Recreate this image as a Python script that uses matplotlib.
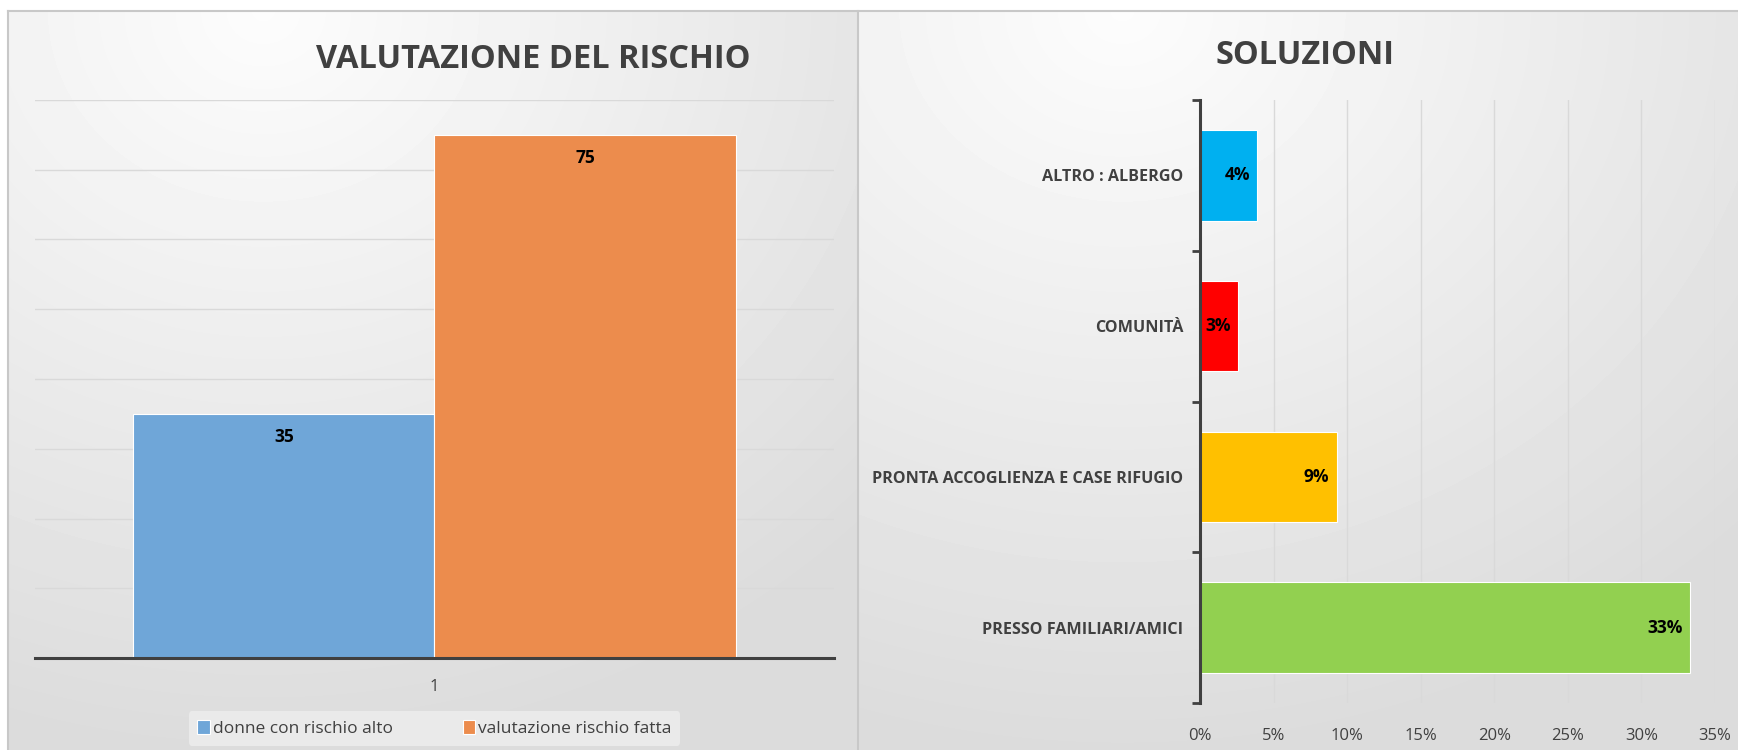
import numpy as np
import matplotlib
matplotlib.use("Agg")
import matplotlib.pyplot as plt
from matplotlib.ticker import PercentFormatter

# --- data ---
left_title = "VALUTAZIONE DEL RISCHIO"
left_series = ["donne con rischio alto", "valutazione rischio fatta"]
left_values = [35, 75]
left_colors = ["#6FA6D8", "#EC8C4D"]

right_title = "SOLUZIONI"
right_cats = ["PRESSO FAMILIARI/AMICI", "PRONTA ACCOGLIENZA E CASE RIFUGIO",
              "COMUNITÀ", "ALTRO : ALBERGO"]
right_values = [0.333, 0.093, 0.026, 0.039]
right_colors = ["#92D050", "#FFC000", "#FF0000", "#00B0F0"]

plt.rcParams['font.family'] = ['Open Sans', 'DejaVu Sans']
txt = "#404040"

W, H = 1738, 750
fig = plt.figure(figsize=(W / 100, H / 100), dpi=100)

# background: soft gradient panels like the office chart
bg = fig.add_axes([0, 0, 1, 1], zorder=-10)
yy, xx = np.mgrid[0:H, 0:W]
img = np.ones((H, W))
for x0, x1 in [(8, 858), (858, W)]:
    m = (xx >= x0) & (xx < x1) & (yy >= 11)
    cx = x0 + 0.3 * (x1 - x0)
    d = np.sqrt(((xx - cx) / (x1 - x0)) ** 2 + ((yy - 11) / H) ** 2)
    img[m] = 0.99 - 0.13 * np.clip(d[m], 0, 1)
bg.imshow(img, cmap="gray", vmin=0, vmax=1, aspect="auto", extent=[0, W, H, 0])
bg.plot([8, 8], [11, H], color="#C8C8C8", lw=1.5)
bg.plot([8, W], [11, 11], color="#C8C8C8", lw=1.5)
bg.plot([858, 858], [11, H], color="#C8C8C8", lw=1.5)
bg.set_xlim(0, W)
bg.set_ylim(H, 0)
bg.axis("off")

# --- left chart ---
ax = fig.add_axes([35 / W, 92 / H, 799 / W, 558 / H])
ax.patch.set_alpha(0)
bw = 0.377
for i, (name, v, c) in enumerate(zip(left_series, left_values, left_colors)):
    xpos = 1 + (i - 0.5) * bw
    ax.bar(xpos, v, width=bw, color=c, edgecolor="white", linewidth=0.8,
           label=name, zorder=3)
    ax.text(xpos, v - 3.3, str(v), ha="center", va="center", fontsize=12.5,
            fontweight="bold", color="black", zorder=4)
ax.set_xlim(0.5, 1.5)
ax.set_ylim(0, 80)
ax.set_yticks(np.arange(0, 81, 10))
ax.set_yticklabels([])
ax.tick_params(axis="y", length=0)
ax.grid(axis="y", color="#D9D9D9", lw=1, zorder=0)
ax.set_xticks([1])
ax.set_xticklabels(["1"], fontsize=12, color=txt)
ax.tick_params(axis="x", length=0, pad=15)
for s in ["top", "right", "left"]:
    ax.spines[s].set_visible(False)
ax.spines["bottom"].set_color(txt)
ax.spines["bottom"].set_linewidth(2.2)
ax.spines["bottom"].set_zorder(5)
leg = ax.legend(loc="upper center", bbox_to_anchor=(0.5, -0.08), ncol=2,
                frameon=True, fontsize=12.5, handlelength=0.7, handleheight=0.9,
                handletextpad=0.2, columnspacing=4.0, borderpad=0.5)
leg.get_frame().set_facecolor("#EAEAEA")
leg.get_frame().set_edgecolor("none")
leg.get_frame().set_alpha(1)
for t in leg.get_texts():
    t.set_color(txt)
fig.text(533 / W, 1 - 60 / H, left_title, ha="center", va="center",
         fontsize=23.5, fontweight="bold", color=txt)

# --- right chart ---
ax2 = fig.add_axes([1200 / W, 47 / H, 515 / W, 603 / H])
ax2.patch.set_alpha(0)
ypos = np.arange(len(right_cats))
ax2.barh(ypos, right_values, height=0.6, color=right_colors,
         edgecolor="white", linewidth=0.8, zorder=3)
for y, v in zip(ypos, right_values):
    ax2.text(v - 0.005, y, f"{v:.0%}", ha="right", va="center", fontsize=12.5,
             fontweight="bold", color="black", zorder=4)
ax2.set_xlim(0, 0.35)
ax2.set_ylim(-0.5, len(right_cats) - 0.5)
ax2.set_xticks(np.arange(0, 0.351, 0.05))
ax2.xaxis.set_major_formatter(PercentFormatter(1.0, decimals=0))
ax2.grid(axis="x", color="#D9D9D9", lw=1, zorder=0)
ax2.tick_params(axis="x", length=0, pad=18, labelsize=12, labelcolor=txt)
ax2.set_yticks(ypos)
ax2.set_yticklabels(right_cats, fontsize=11.6, fontweight="bold", color=txt)
ax2.set_yticks(np.arange(-0.5, len(right_cats), 1), minor=True)
ax2.tick_params(axis="y", which="major", length=0, pad=12)
ax2.tick_params(axis="y", which="minor", length=6, width=2, color=txt, direction="out")
for s in ["top", "right", "bottom"]:
    ax2.spines[s].set_visible(False)
ax2.spines["left"].set_color(txt)
ax2.spines["left"].set_linewidth(2.2)
ax2.spines["left"].set_zorder(5)
fig.text(1305 / W, 1 - 56 / H, right_title, ha="center", va="center",
         fontsize=23.5, fontweight="bold", color=txt)

fig.savefig("out.png", dpi=100)
